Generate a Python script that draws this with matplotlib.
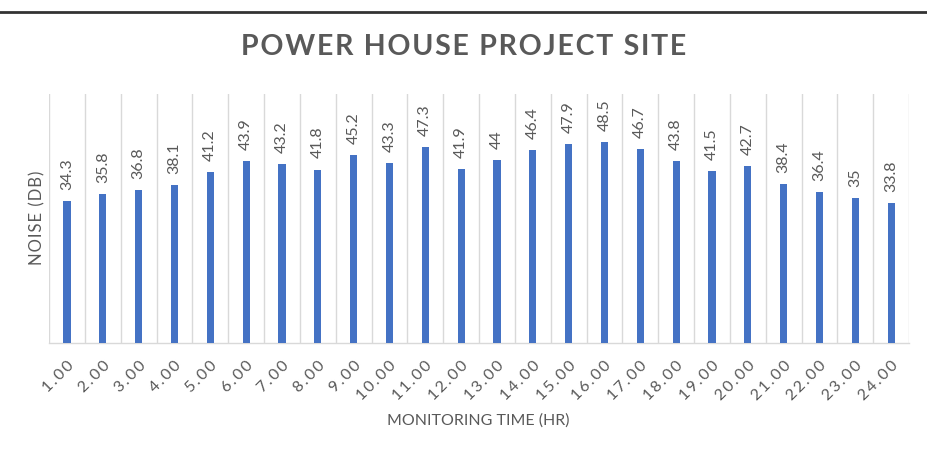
import numpy as np
import matplotlib.pyplot as plt
from matplotlib.lines import Line2D

# Data
hours = ["1.00", "2.00", "3.00", "4.00", "5.00", "6.00", "7.00", "8.00",
         "9.00", "10.00", "11.00", "12.00", "13.00", "14.00", "15.00", "16.00",
         "17.00", "18.00", "19.00", "20.00", "21.00", "22.00", "23.00", "24.00"]
noise = [34.3, 35.8, 36.8, 38.1, 41.2, 43.9, 43.2, 41.8,
         45.2, 43.3, 47.3, 41.9, 44, 46.4, 47.9, 48.5,
         46.7, 43.8, 41.5, 42.7, 38.4, 36.4, 35, 33.8]
value_labels = ["34.3", "35.8", "36.8", "38.1", "41.2", "43.9", "43.2", "41.8",
                "45.2", "43.3", "47.3", "41.9", "44", "46.4", "47.9", "48.5",
                "46.7", "43.8", "41.5", "42.7", "38.4", "36.4", "35", "33.8"]

plt.rcParams['font.family'] = ['Lato', 'DejaVu Sans']
grey = '#595959'
blue = '#4472C4'
grid_col = '#D9D9D9'


def spaced(s, sp='\u200a'):
    # fake the letter spacing used in the original
    return sp.join(s)


fig = plt.figure(figsize=(9.27, 4.51), dpi=100)
ax = fig.add_axes([0.0529, 0.2395, 0.9277, 0.5521])

x = np.arange(len(hours))
ax.bar(x, noise, width=0.2, color=blue, zorder=3)

# value labels, rotated like the original
for xi, v, lab in zip(x, noise, value_labels):
    ax.annotate(lab, (xi, v), xytext=(0, 8), textcoords='offset points',
                rotation=90, ha='center', va='bottom', fontsize=11.5, color=grey)

ax.set_xlim(-0.5, len(hours) - 0.5)
ax.set_ylim(0, 60)

# vertical gridlines between categories
ax.set_xticks(np.arange(-0.5, len(hours), 1), minor=True)
ax.grid(True, which='minor', axis='x', color=grid_col, linewidth=1, zorder=0)
ax.set_xticks(x)
ax.set_xticklabels([spaced(h, '\u2009') for h in hours], rotation=45, ha='right',
                   rotation_mode='anchor', fontsize=11.5, color=grey)
ax.tick_params(axis='x', which='both', length=0, pad=11)
ax.set_yticks([])

for side in ['top', 'right', 'left']:
    ax.spines[side].set_visible(False)
ax.spines['bottom'].set_color(grid_col)
ax.spines['bottom'].set_linewidth(1)

fig.text(37 / 927, 1 - 218 / 451, spaced("NOISE (DB)"), rotation=90,
         ha='center', va='center', fontsize=12, color=grey)
fig.text(0.516, 0.067, "MONITORING TIME (HR)", ha='center', va='center',
         fontsize=11.5, color=grey)
fig.text(0.500, 0.895, spaced("POWER HOUSE PROJECT SITE"), ha='center', va='center',
         fontsize=20.5, fontweight='bold', color=grey)

# dark rule across the top of the image
fig.add_artist(Line2D([0, 1], [1 - 12 / 451, 1 - 12 / 451],
                      transform=fig.transFigure, color='#333333', linewidth=2))

fig.savefig("out.png", dpi=100)
